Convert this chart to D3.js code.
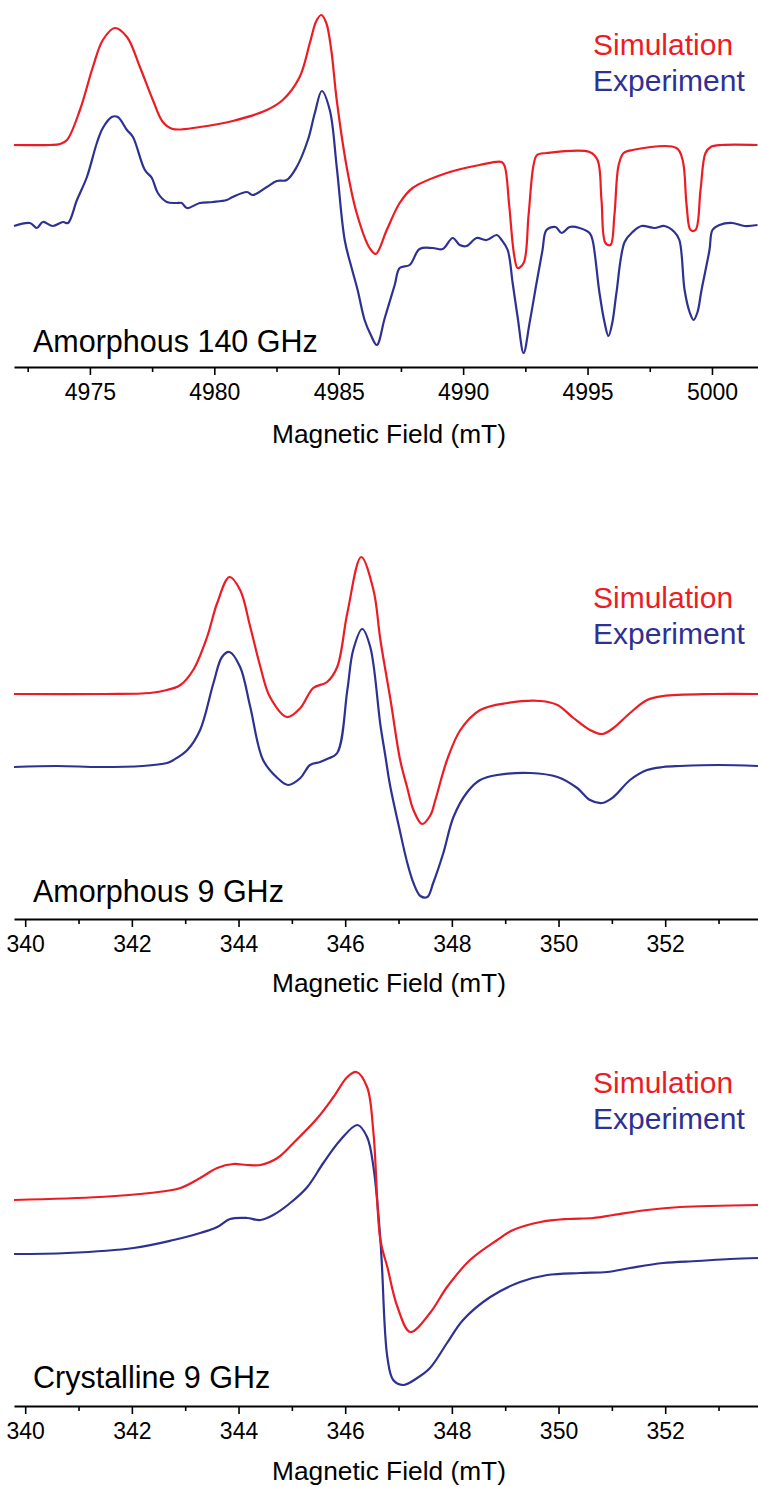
<!DOCTYPE html>
<html>
<head>
<meta charset="utf-8">
<script src="https://cdn.jsdelivr.net/npm/d3@7"></script>
<style>
  html, body { margin: 0; padding: 0; background: #fff; }
  svg { display: block; font-family: "Liberation Sans", Arial, sans-serif; }
</style>
</head>
<body>
<svg id="chart" width="758" height="1487"></svg>
<script>
// ---------------- DATA ----------------
// Panel 1: Amorphous 140 GHz (field in mT, intensity in arbitrary units)
const amorph140SimField = [4971.95,4973.39,4973.80,4974.08,4974.60,4975.12,4975.52,4976.00,4976.49,4977.01,4977.53,4977.93,4978.33,4979.42,4980.74,4982.11,4982.75,4983.43,4983.84,4984.10,4984.30,4984.50,4984.70,4984.92,4985.32,4985.72,4986.24,4986.49,4986.93,4987.45,4987.97,4989.34,4990.66,4991.55,4991.68,4991.85,4992.05,4992.19,4992.43,4992.63,4992.83,4992.97,4993.35,4995.08,4995.40,4995.56,4995.72,4995.92,4996.08,4996.25,4996.45,4996.80,4998.57,4998.82,4998.98,4999.14,4999.34,4999.54,4999.74,4999.95,5000.40,5001.83];
const amorph140SimInt   = [0,0,0.01,0.05,0.35,0.78,1.05,1.17,1.08,0.78,0.45,0.23,0.16,0.18,0.24,0.35,0.45,0.68,1.02,1.24,1.30,1.22,0.95,0.45,-0.22,-0.68,-1.03,-1.09,-0.85,-0.58,-0.43,-0.28,-0.20,-0.17,-0.22,-0.60,-1.10,-1.23,-1.18,-0.70,-0.20,-0.10,-0.08,-0.07,-0.15,-0.55,-0.98,-1.00,-0.70,-0.20,-0.08,-0.05,-0.03,-0.15,-0.60,-0.85,-0.85,-0.45,-0.08,-0.02,0,0];
const amorph140ExpField = [4971.95,4972.59,4972.87,4973.11,4973.51,4973.92,4974.12,4974.48,4974.88,4975.28,4975.52,4975.88,4976.12,4976.49,4976.73,4977.21,4977.49,4977.73,4978.09,4978.49,4978.69,4978.90,4979.42,4979.94,4980.50,4980.74,4981.31,4981.55,4982.11,4982.51,4982.91,4983.31,4983.76,4984.04,4984.32,4984.64,4984.92,4985.24,4985.52,4985.76,4986.04,4986.29,4986.53,4986.85,4987.25,4987.45,4987.85,4988.25,4988.78,4989.18,4989.58,4989.86,4990.14,4990.54,4990.94,4991.35,4991.55,4991.79,4991.99,4992.19,4992.43,4992.67,4992.95,4993.19,4993.35,4993.71,4993.96,4994.28,4994.68,4995.08,4995.20,4995.48,4995.68,4995.84,4996.00,4996.16,4996.49,4996.81,4997.17,4997.69,4998.09,4998.49,4998.69,4998.90,4999.10,4999.26,4999.42,4999.58,4999.90,5000.02,5000.30,5000.82,5001.31,5001.83];
const amorph140ExpInt   = [0.01,0.04,-0.01,0.05,0.01,0.05,0.04,0.27,0.50,0.84,0.99,1.10,1.10,0.97,0.90,0.57,0.49,0.34,0.25,0.24,0.24,0.19,0.24,0.25,0.27,0.30,0.35,0.32,0.40,0.46,0.47,0.60,0.87,1.14,1.36,1.17,0.60,-0.13,-0.41,-0.63,-0.93,-1.08,-1.18,-0.91,-0.58,-0.41,-0.38,-0.22,-0.21,-0.22,-0.11,-0.18,-0.19,-0.11,-0.13,-0.08,-0.13,-0.23,-0.56,-0.90,-1.26,-0.96,-0.56,-0.23,-0.03,0.00,-0.06,0.00,-0.01,-0.06,-0.13,-0.66,-0.95,-1.09,-0.95,-0.66,-0.15,-0.05,0.01,-0.01,0.01,-0.05,-0.13,-0.63,-0.85,-0.93,-0.85,-0.63,-0.23,-0.03,0.02,0.04,0.01,0.02];

// Panel 2: Amorphous 9 GHz
const amorph9SimField = [339.79,341.50,342.34,342.66,342.91,343.15,343.41,343.60,343.83,344.03,344.22,344.41,344.59,344.91,345.16,345.40,345.66,345.85,346.04,346.30,346.53,346.66,346.85,347.03,347.16,347.28,347.44,347.60,347.69,347.91,348.16,348.53,349.04,349.66,349.98,350.28,350.59,350.82,351.03,351.34,351.66,351.96,352.90,353.74];
const amorph9SimInt   = [0,0,0.01,0.04,0.09,0.24,0.57,0.91,1.17,1.04,0.67,0.27,-0.03,-0.23,-0.14,0.06,0.12,0.27,0.81,1.37,1.04,0.54,-0.06,-0.66,-0.93,-1.16,-1.30,-1.21,-1.06,-0.66,-0.36,-0.16,-0.09,-0.07,-0.11,-0.24,-0.36,-0.40,-0.34,-0.19,-0.06,-0.02,0,0];
const amorph9ExpField = [339.79,340.60,341.40,342.20,342.66,342.78,343.04,343.28,343.53,343.69,343.83,344.03,344.22,344.46,344.73,344.93,345.16,345.34,345.53,345.66,345.85,346.04,346.15,346.32,346.47,346.66,346.75,346.84,347.03,347.16,347.28,347.41,347.54,347.65,347.84,348.03,348.29,348.53,348.85,349.47,349.98,350.35,350.59,350.82,351.03,351.34,351.66,351.96,352.28,353.00,353.74];
const amorph9ExpInt   = [-0.01,0.00,-0.01,0.00,0.03,0.06,0.16,0.36,0.83,1.09,1.14,0.99,0.59,0.06,-0.12,-0.19,-0.12,0.01,0.04,0.07,0.13,0.76,1.16,1.37,1.19,0.41,0.11,-0.19,-0.66,-0.96,-1.17,-1.30,-1.31,-1.17,-0.87,-0.51,-0.26,-0.14,-0.09,-0.07,-0.11,-0.22,-0.34,-0.37,-0.31,-0.14,-0.04,-0.01,0,0.01,0];

// Panel 3: Crystalline 9 GHz
const cryst9SimField = [339.79,341.41,342.34,342.91,343.28,343.60,343.90,344.16,344.41,344.73,345.03,345.48,345.78,346.04,346.21,346.41,346.53,346.66,346.79,346.98,347.22,347.59,347.91,348.34,348.85,349.15,349.66,350.16,350.65,351.03,351.66,352.28,353.74];
const cryst9SimInt   = [0,0.03,0.07,0.12,0.22,0.32,0.36,0.35,0.35,0.42,0.57,0.82,1.03,1.23,1.28,1.13,0.67,-0.40,-0.67,-1.07,-1.32,-1.13,-0.87,-0.60,-0.40,-0.30,-0.22,-0.19,-0.18,-0.15,-0.10,-0.07,-0.05];
const cryst9ExpField = [339.79,340.79,342.03,342.78,343.28,343.60,343.84,344.16,344.41,344.65,344.97,345.29,345.59,345.91,346.23,346.41,346.53,346.66,346.69,346.79,346.90,347.09,347.35,347.59,347.91,348.21,348.72,349.28,349.79,350.41,350.91,351.34,351.96,352.60,353.22,353.74];
const cryst9ExpInt   = [0,0.01,0.06,0.14,0.21,0.27,0.35,0.36,0.34,0.39,0.51,0.67,0.91,1.14,1.29,1.17,0.87,0.14,-0.13,-1.03,-1.26,-1.31,-1.24,-1.14,-0.89,-0.66,-0.43,-0.28,-0.21,-0.19,-0.18,-0.14,-0.09,-0.07,-0.05,-0.04];

// Tick values
const ticks140Major = [4975, 4980, 4985, 4990, 4995, 5000];
const ticks140Minor = [4972.5, 4977.5, 4982.5, 4987.5, 4992.5, 4997.5];
const ticks9Major = [340, 342, 344, 346, 348, 350, 352];
const ticks9Minor = [341, 343, 345, 347, 349, 351, 353];

// Labels
const panelLabels = ["Amorphous 140 GHz", "Amorphous 9 GHz", "Crystalline 9 GHz"];
const legendLabels = ["Simulation", "Experiment"];
const axisTitle = "Magnetic Field (mT)";

// ---------------- LAYOUT ----------------
const W = 758;
const RED = "#ED1C24", BLUE = "#2E3192";
const panels = [
  { label: panelLabels[0], xDomain: [4971.95, 5001.85], major: ticks140Major, minor: ticks140Minor,
    sim: [amorph140SimField, amorph140SimInt], exp: [amorph140ExpField, amorph140ExpInt],
    axisY: 367, yDomain: [-2.22, 1.45], expOffset: -0.82, labelDy: -15, titleDy: 76, legendY: 55 },
  { label: panelLabels[1], xDomain: [339.79, 353.74], major: ticks9Major, minor: ticks9Minor,
    sim: [amorph9SimField, amorph9SimInt], exp: [amorph9ExpField, amorph9ExpInt],
    axisY: 919, yDomain: [-2.25, 1.74], expOffset: -0.72, labelDy: -17, titleDy: 73, legendY: 608 },
  { label: panelLabels[2], xDomain: [339.79, 353.74], major: ticks9Major, minor: ticks9Minor,
    sim: [cryst9SimField, cryst9SimInt], exp: [cryst9ExpField, cryst9ExpInt],
    axisY: 1406, yDomain: [-2.06, 1.60], expOffset: -0.54, labelDy: -18, titleDy: 74, legendY: 1093 }
];

const svg = d3.select("#chart");

panels.forEach(p => {
  const x = d3.scaleLinear().domain(p.xDomain).range([14, W]);
  const pxPerUnit = 100;
  const y = d3.scaleLinear().domain(p.yDomain)
    .range([p.axisY, p.axisY - (p.yDomain[1] - p.yDomain[0]) * pxPerUnit]);

  const g = svg.append("g");

  // traces
  const line = d3.line().x(d => x(d[0])).y(d => y(d[1])).curve(d3.curveCatmullRom.alpha(0.5));
  const simPts = p.sim[0].map((f, i) => [f, p.sim[1][i]]);
  const expPts = p.exp[0].map((f, i) => [f, p.exp[1][i] + p.expOffset]);
  g.append("path").attr("d", line(expPts)).attr("fill", "none")
    .attr("stroke", BLUE).attr("stroke-width", 2.2).attr("stroke-linejoin", "round");
  g.append("path").attr("d", line(simPts)).attr("fill", "none")
    .attr("stroke", RED).attr("stroke-width", 2.2).attr("stroke-linejoin", "round");

  // minor ticks
  const minorAxis = d3.axisBottom(x).tickValues(p.minor).tickSize(5).tickSizeOuter(0).tickFormat("");
  const gm = g.append("g").attr("transform", `translate(0,${p.axisY})`).call(minorAxis);
  gm.select(".domain").remove();
  gm.selectAll(".tick line").attr("stroke", "#000").attr("stroke-width", 1.6);

  // major axis
  const majorAxis = d3.axisBottom(x).tickValues(p.major).tickSize(8).tickSizeOuter(0)
    .tickPadding(9).tickFormat(d3.format("d"));
  const ga = g.append("g").attr("transform", `translate(0,${p.axisY})`).call(majorAxis);
  ga.select(".domain").attr("stroke", "#000").attr("stroke-width", 2);
  ga.selectAll(".tick line").attr("stroke", "#000").attr("stroke-width", 1.6);
  ga.selectAll(".tick text").attr("font-size", 23).attr("fill", "#000")
    .attr("font-family", "'Liberation Sans', Arial, sans-serif");

  // axis title
  g.append("text").attr("x", 389).attr("y", p.axisY + p.titleDy)
    .attr("text-anchor", "middle").attr("font-size", 26.3).attr("fill", "#000").text(axisTitle);

  // panel label
  g.append("text").attr("x", 33).attr("y", p.axisY + p.labelDy)
    .attr("font-size", 30.5).attr("fill", "#000").text(p.label);

  // legend
  g.append("text").attr("x", 593).attr("y", p.legendY).attr("font-size", 30)
    .attr("fill", RED).text(legendLabels[0]);
  g.append("text").attr("x", 593).attr("y", p.legendY + 36).attr("font-size", 30)
    .attr("fill", BLUE).text(legendLabels[1]);
});
</script>
</body>
</html>
